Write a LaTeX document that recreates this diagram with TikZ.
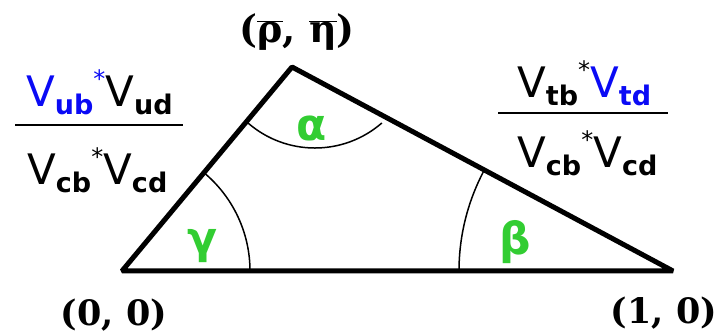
\documentclass[tikz,border=0pt]{standalone}
\usepackage{fontspec}
\usetikzlibrary{calc}
\newfontfamily\labfont{DejaVu Sans}
\newfontfamily\grfont{DejaVu Sans}
\newfontfamily\grserif{DejaVu Serif}
\definecolor{angG}{RGB}{50,205,50}
\definecolor{ckmB}{RGB}{10,10,245}
\newcommand\VV[1]{{\fontsize{42}{42}\selectfont V}\raisebox{-8pt}{\fontsize{27}{27}\selectfont\bfseries #1}}
\newcommand\cstar{\raisebox{19pt}{\fontsize{24}{24}\selectfont *}}
\begin{document}
\begin{tikzpicture}[x=1pt,y=1pt,
  edge/.style={line width=5pt,line join=bevel},
  angarc/.style={line width=1.5pt},
  coordlab/.style={font=\grserif\fontsize{35}{35}\selectfont\bfseries,inner sep=0pt},
  toplab/.style={font=\grserif\fontsize{38}{38}\selectfont\bfseries,inner sep=0pt},
  anglab/.style={font=\grfont\fontsize{44}{44}\selectfont\bfseries,text=angG,inner sep=0pt},
  ckm/.style={font=\labfont,inner sep=0pt,anchor=base west},
  fracline/.style={line width=2.5pt}]
\useasboundingbox (0,0) rectangle (725,336);
\coordinate (A) at (122,65);
\coordinate (T) at (292,269);
\coordinate (B) at (673,65);
% angle arcs
\draw[angarc] ($(A)+(128,0)$) arc[start angle=0,end angle=50.2,radius=128];
\draw[angarc] ($(B)+(-214,0)$) arc[start angle=180,end angle=151.8,radius=214];
\draw[angarc] (248,213) arc[start angle=229,end angle=311,radius=102];
% triangle
\draw[edge] (A) -- (T) -- (B) -- cycle;
% vertex labels
\node[coordlab] (l00) at (114,21) {(0, 0)};
\node[coordlab] (l10) at (664,23) {(1, 0)};
\node[toplab] (lre) at (297,304) {($\overline{\hbox{ρ}}$, $\overline{\hbox{η}}$)};
% angle labels
\node[anglab] (al) at (312,208) {α};
\node[anglab] (ga) at (202,90) {γ};
\node[anglab] (be) at (515,94) {β};
% left ratio
\node[ckm] (ln) at (26,229) {{\color{ckmB}\VV{ub}\cstar}\VV{ud}};
\node[ckm] (ld) at (27,151) {\VV{cb}\cstar\VV{cd}};
\coordinate (ll1) at (15,211);
\coordinate (ll2) at (183,211);
\draw[fracline] (ll1) -- (ll2);
% right ratio
\node[ckm] (rn) at (517,238) {\VV{tb}\cstar{\color{ckmB}\VV{td}}};
\node[ckm] (rd) at (517,168) {\VV{cb}\cstar\VV{cd}};
\coordinate (rl1) at (498,223);
\coordinate (rl2) at (668,223);
\draw[fracline] (rl1) -- (rl2);
\end{tikzpicture}
\end{document}
